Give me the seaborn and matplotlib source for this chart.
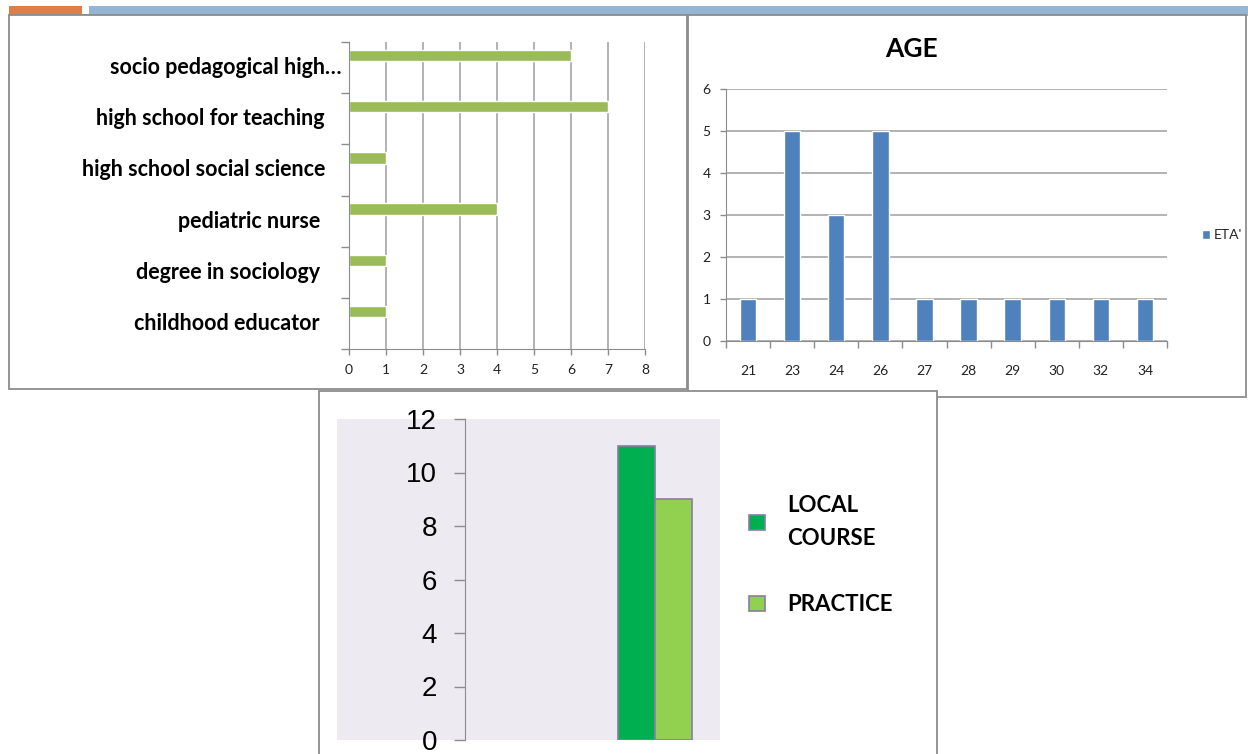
import numpy as np
import pandas as pd
import matplotlib
matplotlib.use("Agg")
import matplotlib.pyplot as plt
import matplotlib.transforms as mtransforms
from matplotlib.patches import Rectangle
import seaborn as sns

# top left: qualifications
qual_labels = ["socio pedagogical high…", "high school for teaching", "high school social science",
               "pediatric nurse", "degree in sociology", "childhood educator"]
qual_counts = [6, 7, 1, 4, 1, 1]

# top right: age
ages = ["21", "23", "24", "26", "27", "28", "29", "30", "32", "34"]
age_counts = [1, 5, 3, 5, 1, 1, 1, 1, 1, 1]

# bottom: course type
course_series = ["LOCAL\nCOURSE", "PRACTICE"]
course_counts = [11, 9]

sns.set_style("white")
plt.rcParams["font.family"] = ["Lato", "DejaVu Sans"]

W, H = 1248, 754
GRID = "#a6a6a6"
SPINE = "#8c8c8c"

fig = plt.figure(figsize=(W / 100, H / 100), dpi=100)


def box(x0, y0, x1, y1):
    return [x0 / W, 1 - y1 / H, (x1 - x0) / W, (y1 - y0) / H]


def frame(x0, y0, x1, y1, z, face="white", edge="#8c8c8c", lw=1.3):
    r = Rectangle((x0 / W, 1 - y1 / H), (x1 - x0) / W, (y1 - y0) / H,
                  transform=fig.transFigure, facecolor=face, edgecolor=edge, lw=lw, zorder=z)
    fig.add_artist(r)


# header strip
frame(9, 6, 82, 14, -5, face="#e07f45", edge="none", lw=0)
frame(89, 6, 1250, 14, -5, face="#94b6d4", edge="none", lw=0)
fig.add_artist(plt.Line2D([9 / W, 1], [1 - 14.5 / H] * 2, transform=fig.transFigure,
                          color="#9a9a9a", lw=1.2, zorder=-4))

# panel frames
frame(9, 15, 687, 389, -4)
frame(688, 15, 1246, 397, -4)
frame(319, 391, 937, 770, -3)
frame(337, 419, 720, 740, -2, face="#edeaf2", edge="none", lw=0)

# ---- top left: horizontal bars
ax1 = fig.add_axes(box(349, 42, 645, 349))
sns.barplot(x=qual_counts, y=qual_labels, orient="h", color="#9bbb59", saturation=1,
            width=0.22, ax=ax1)
for p in ax1.patches:
    p.set_y(p.get_y() - 0.235)
ax1.set_xlim(0, 8)
ax1.set_ylim(5.5, -0.5)
ax1.set_xticks(range(9))
ax1.xaxis.grid(True, color=GRID, lw=1.2)
ax1.set_axisbelow(True)
ax1.set_yticks(np.arange(-0.5, 6, 1), minor=True)
ax1.tick_params(axis="y", which="major", length=0, labelleft=False)
ax1.tick_params(axis="y", which="minor", left=True, length=6, width=1, color=SPINE,
                direction="out")
ax1.tick_params(axis="x", bottom=True, length=4, width=1, color=SPINE, direction="out", pad=7,
                labelsize=10, labelcolor="#222222")
# category labels drawn by hand so each can sit where the original had it
shift_px = [17, 0, 0, -5, -5, -5]
blend = mtransforms.blended_transform_factory(ax1.transAxes, ax1.transData)
for i, lab in enumerate(qual_labels):
    tr = blend + mtransforms.ScaledTranslation((shift_px[i] - 24) / 100, 0, fig.dpi_scale_trans)
    ax1.text(0, i, lab, transform=tr, ha="right", va="center", fontsize=15.5,
             fontweight="bold", color="black")
for s in ["top", "right"]:
    ax1.spines[s].set_visible(False)
for s in ["left", "bottom"]:
    ax1.spines[s].set_color(SPINE)
ax1.set_xlabel("")
ax1.set_ylabel("")

# ---- top right: age
ax2 = fig.add_axes(box(726, 89, 1167, 341))
sns.barplot(x=ages, y=age_counts, color="#4f81bd", saturation=1, width=0.37,
            label="ETA'", ax=ax2)
ax2.set_xlim(-0.5, 9.5)
ax2.set_ylim(0, 6)
ax2.set_yticks(range(7))
ax2.yaxis.grid(True, color=GRID, lw=1.2)
ax2.set_axisbelow(True)
ax2.set_xticks(np.arange(-0.5, 10, 1), minor=True)
ax2.tick_params(axis="x", which="major", length=0, pad=17, labelsize=10, labelcolor="#222222")
ax2.tick_params(axis="x", which="minor", bottom=True, length=5, width=1, color=SPINE,
                direction="out")
ax2.tick_params(axis="y", left=True, length=4, width=1, color=SPINE, direction="out", pad=7,
                labelsize=10, labelcolor="#222222")
for s in ["top", "right"]:
    ax2.spines[s].set_visible(False)
for s in ["left", "bottom"]:
    ax2.spines[s].set_color(SPINE)
ax2.set_xlabel("")
ax2.set_ylabel("")
ax2.legend(loc="center left", bbox_to_anchor=(1189 / W, 1 - 235 / H),
           bbox_transform=fig.transFigure, frameon=False, fontsize=10,
           handlelength=0.6, handleheight=0.6, handletextpad=0.3)
fig.text(911 / W, 1 - 49 / H, "AGE", ha="center", va="center", fontsize=19,
         fontweight="bold", color="black")

# ---- bottom: course type
df3 = pd.DataFrame({"grp": [""] * len(course_series), "series": course_series,
                    "count": course_counts})
ax3 = fig.add_axes(box(465, 419, 720, 740))
ax3.set_facecolor("none")
sns.barplot(data=df3, x="grp", y="count", hue="series", palette=["#00b050", "#92d050"],
            saturation=1, width=0.8, edgecolor="#8a7ca3", linewidth=1.2, ax=ax3)
ax3.set_xlim(-2.054, 0.703)
ax3.set_ylim(0, 12)
ax3.set_yticks(range(0, 13, 2))
ax3.tick_params(axis="y", left=True, length=8, width=1, color=SPINE, direction="out", pad=12,
                labelcolor="black")
for t in ax3.get_yticklabels():
    t.set_fontfamily("Liberation Sans")
    t.set_fontsize(20)
ax3.set_xticks([])
for s in ["top", "right", "bottom"]:
    ax3.spines[s].set_visible(False)
ax3.spines["left"].set_color(SPINE)
ax3.set_xlabel("")
ax3.set_ylabel("")
h, l = ax3.get_legend_handles_labels()
ax3.get_legend().remove()
leg = fig.legend(h, l, loc="center left", bbox_to_anchor=(749 / W, 1 - 555 / H),
                 frameon=False, prop={"family": "Lato", "weight": "bold", "size": 16},
                 borderpad=0, borderaxespad=0,
                 handlelength=0.72, handleheight=0.72, handletextpad=1.0, labelspacing=2.05)
for t in leg.get_texts():
    t.set_linespacing(1.7)
    t.set_color("black")

fig.savefig("out.png", dpi=100, facecolor="white")
